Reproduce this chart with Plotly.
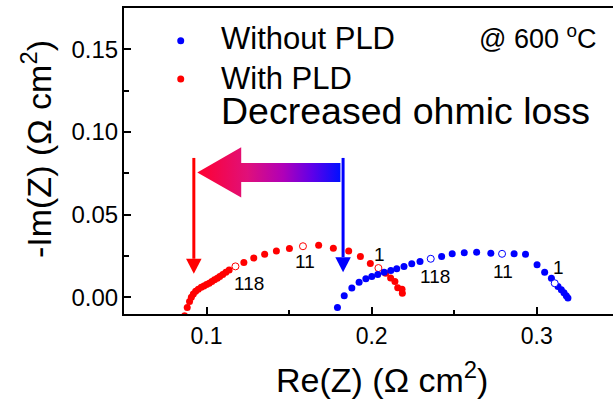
import plotly.graph_objects as go

# Nyquist spectra at 600 °C, area-specific impedance in ohm*cm^2
with_re = [0.0867, 0.0883, 0.0897, 0.0908, 0.0920, 0.0934, 0.0950, 0.0968, 0.0984,
           0.1000, 0.1016, 0.1032, 0.1048, 0.1065, 0.1080, 0.1098, 0.1117, 0.1137,
           0.1226, 0.1286, 0.1352, 0.1423, 0.1502, 0.1679, 0.1768, 0.1861, 0.1932,
           0.1992, 0.2085, 0.2115, 0.2141, 0.2158, 0.2184, 0.2186]
with_im = [-0.0112, -0.0061, -0.0025, 0.0000, 0.0020, 0.0036, 0.0049, 0.0061, 0.0069,
           0.0077, 0.0085, 0.0095, 0.0106, 0.0116, 0.0126, 0.0138, 0.0152, 0.0165,
           0.0211, 0.0238, 0.0260, 0.0280, 0.0295, 0.0315, 0.0297, 0.0280, 0.0247,
           0.0204, 0.0146, 0.0117, 0.0096, 0.0058, 0.0049, 0.0024]

without_re = [0.1793, 0.1834, 0.1880, 0.1924, 0.1965, 0.2001, 0.2037, 0.2076, 0.2116,
              0.2152, 0.2196, 0.2243, 0.2293, 0.2424, 0.2488, 0.2561, 0.2636, 0.2722,
              0.2863, 0.2932, 0.3002, 0.3048, 0.3089, 0.3129, 0.3149, 0.3165, 0.3179,
              0.3189]
without_im = [-0.0061, 0.0010, 0.0057, 0.0091, 0.0112, 0.0126, 0.0138, 0.0152, 0.0162,
              0.0172, 0.0186, 0.0203, 0.0217, 0.0247, 0.0263, 0.0269, 0.0273, 0.0267,
              0.0263, 0.0261, 0.0197, 0.0152, 0.0115, 0.0065, 0.0045, 0.0027, 0.0010,
              -0.0004]

# frequency markers (Hz), drawn as open symbols
freq_labels = ["118", "11", "1"]
with_mark_re = [0.1175, 0.1584, 0.2041]
with_mark_im = [0.0187, 0.0309, 0.0177]
without_mark_re = [0.2358, 0.2790, 0.3109]
without_mark_im = [0.0233, 0.0263, 0.0085]

# high-frequency intercepts (ohmic resistance)
ohmic_with = 0.0923
ohmic_without = 0.1827

x_ticks = [0.1, 0.2, 0.3]
x_minor = [0.15, 0.25]
y_ticks = [0.00, 0.05, 0.10, 0.15]
y_minor = [0.025, 0.075, 0.125]

RED = "#ff0000"
BLUE = "#0000ff"
FONT = "Liberation Sans, Arial, sans-serif"

fig = go.Figure()

fig.add_trace(go.Scatter(x=with_re, y=with_im, mode="markers",
                         marker=dict(color=RED, size=7), hoverinfo="skip"))
fig.add_trace(go.Scatter(x=with_mark_re, y=with_mark_im, mode="markers",
                         marker=dict(color="white", size=7, line=dict(color=RED, width=1)),
                         hoverinfo="skip"))
fig.add_trace(go.Scatter(x=without_re, y=without_im, mode="markers",
                         marker=dict(color=BLUE, size=7), hoverinfo="skip"))
fig.add_trace(go.Scatter(x=without_mark_re, y=without_mark_im, mode="markers",
                         marker=dict(color="white", size=7, line=dict(color=BLUE, width=1)),
                         hoverinfo="skip"))

# gradient arrow pointing from the old intercept to the new one
tip_x = ohmic_with + 0.0021
head_x = 0.1210
tail_x = ohmic_without - 0.0016
y_mid, head_half, body_half = 0.0755, 0.0152, 0.00575
arrow_x = [tip_x, head_x, head_x, tail_x, tail_x, head_x, head_x, tip_x]
arrow_y = [y_mid, y_mid + head_half, y_mid + body_half, y_mid + body_half,
           y_mid - body_half, y_mid - body_half, y_mid - head_half, y_mid]
fig.add_trace(go.Scatter(
    x=arrow_x, y=arrow_y, mode="lines", fill="toself", line=dict(width=0),
    fillgradient=dict(type="horizontal",
                      colorscale=[[0, "#ff0030"], [0.35, "#e0107a"], [0.6, "#b000b8"],
                                  [0.8, "#6000e8"], [1, "#0010ff"]]),
    hoverinfo="skip"))

# vertical arrows marking each intercept
shapes = []
line_top = 0.0843
head_len = 0.0091
head_hw = 0.0047
for xv, tip_y, col in [(ohmic_with, 0.0142, RED), (ohmic_without, 0.0152, BLUE)]:
    shapes.append(dict(type="line", xref="x", yref="y", x0=xv, x1=xv,
                       y0=line_top, y1=tip_y + head_len, line=dict(color=col, width=3)))
    shapes.append(dict(type="path", xref="x", yref="y",
                       path=f"M {xv - head_hw} {tip_y + head_len} L {xv + head_hw} {tip_y + head_len} L {xv} {tip_y} Z",
                       fillcolor=col, line=dict(width=0)))

# legend dots
for py, col in [(0.893, BLUE), (0.768, RED)]:
    shapes.append(dict(type="circle", xref="paper", yref="paper",
                       xsizemode="pixel", ysizemode="pixel",
                       xanchor=0.116, yanchor=py, x0=-3.5, x1=3.5, y0=-3.5, y1=3.5,
                       fillcolor=col, line=dict(width=0)))

annotations = []
# frequency labels next to the open symbols
label_offsets_with = [(14, -17), (2, -15), (1, 14)]
label_offsets_without = [(4, -18), (1, -18), (4, 16)]
for xs, ys, offs in [(with_mark_re, with_mark_im, label_offsets_with),
                     (without_mark_re, without_mark_im, label_offsets_without)]:
    for txt, xv, yv, (dx, dy) in zip(freq_labels, xs, ys, offs):
        annotations.append(dict(x=xv, y=yv, xref="x", yref="y", text=txt, showarrow=False,
                                xshift=dx, yshift=dy, font=dict(size=19, color="black")))

annotations += [
    dict(x=0.195, y=0.8987, xref="paper", yref="paper", text="Without PLD",
         showarrow=False, xanchor="left", yanchor="middle", font=dict(size=31)),
    dict(x=0.195, y=0.768, xref="paper", yref="paper", text="With PLD",
         showarrow=False, xanchor="left", yanchor="middle", font=dict(size=31)),
    dict(x=0.722, y=0.905, xref="paper", yref="paper", text="@ 600 <sup>o</sup>C",
         showarrow=False, xanchor="left", yanchor="middle", font=dict(size=27)),
    dict(x=0.1935, y=0.665, xref="paper", yref="paper", text="Decreased ohmic loss",
         showarrow=False, xanchor="left", yanchor="middle", font=dict(size=37.5)),
    dict(x=0.527, y=-0.209, xref="paper", yref="paper", text="Re(Z) (\u03a9 cm<sup>2</sup>)",
         showarrow=False, xanchor="center", yanchor="middle", font=dict(size=34)),
    dict(x=-0.18, y=0.539, xref="paper", yref="paper", text="-Im(Z) (\u03a9 cm<sup>2</sup>)",
         showarrow=False, textangle=-90, xanchor="center", yanchor="middle", font=dict(size=34)),
]

axis_common = dict(showline=True, linecolor="black", linewidth=2, ticks="inside",
                   ticklen=7, tickwidth=1.5, tickcolor="black", showgrid=False,
                   zeroline=False)

fig.update_layout(
    width=613, height=402,
    margin=dict(l=124, r=0, t=8, b=88),
    paper_bgcolor="white", plot_bgcolor="white",
    showlegend=False,
    font=dict(family=FONT, color="black"),
    shapes=shapes, annotations=annotations,
    xaxis=dict(range=[0.05, 0.3462], tickvals=x_ticks, tickformat=".1f", mirror=True,
               tickfont=dict(size=23, color="black"),
               minor=dict(tickvals=x_minor, ticks="inside", ticklen=4, tickwidth=1.5,
                          tickcolor="black"),
               **axis_common),
    yaxis=dict(range=[-0.0101, 0.175], tickvals=y_ticks, tickformat=".2f",
               tickfont=dict(size=24, color="black"), ticklabelstandoff=-1,
               minor=dict(tickvals=y_minor, ticks="inside", ticklen=5, tickwidth=1.5,
                          tickcolor="black"),
               **axis_common),
)

fig.write_html("out.html")
